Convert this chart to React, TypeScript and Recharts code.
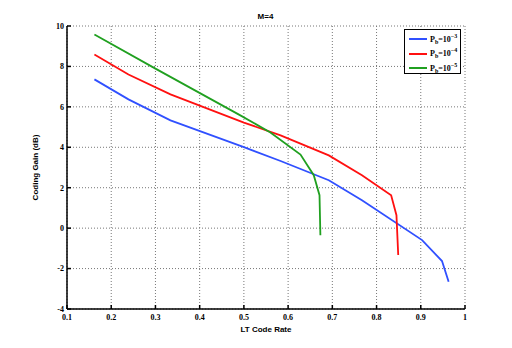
import React from 'react'
import { CartesianGrid, Line, LineChart, XAxis, YAxis } from 'recharts'

// LT code rate vs coding gain, M=4
const blueRate = [0.162, 0.239, 0.334, 0.5, 0.583, 0.692, 0.767, 0.903, 0.948, 0.963]
const blueGain = [7.36, 6.37, 5.33, 4.01, 3.32, 2.37, 1.38, -0.59, -1.63, -2.65]

const redRate = [0.162, 0.239, 0.334, 0.5, 0.583, 0.692, 0.767, 0.833, 0.845, 0.849]
const redGain = [8.59, 7.6, 6.62, 5.22, 4.59, 3.6, 2.62, 1.63, 0.64, -1.33]

const greenRate = [0.162, 0.3, 0.492, 0.56, 0.628, 0.658, 0.671, 0.673]
const greenGain = [9.58, 7.89, 5.58, 4.73, 3.64, 2.62, 1.63, -0.35]

const xTicks = [0.1, 0.2, 0.3, 0.4, 0.5, 0.6, 0.7, 0.8, 0.9, 1]
const yTicks = [-4, -2, 0, 2, 4, 6, 8, 10]

const legendItems = [
  { color: '#3050ff', exp: '−3' },
  { color: '#ff1010', exp: '−4' },
  { color: '#20a020', exp: '−5' },
]

const toPoints = (xs: number[], ys: number[]) => xs.map((x, i) => ({ x, y: ys[i] }))

const blueData = toPoints(blueRate, blueGain)
const redData = toPoints(redRate, redGain)
const greenData = toPoints(greenRate, greenGain)

const tickFont = { fontFamily: 'Liberation Serif', fontWeight: 'bold', fontSize: 8, fill: '#000' }
const labelFont = { fontFamily: 'Liberation Sans', fontWeight: 'bold', fontSize: 8, fill: '#000' }

export default function App() {
  return (
    <div style={{ position: 'absolute', left: 0, top: 0, width: 512, height: 348, background: '#fff' }}>
      <LineChart width={512} height={348} margin={{ top: 26, right: 47, bottom: 19, left: 37 }}>
        <CartesianGrid xAxisId="b" yAxisId="l" stroke="#777" strokeDasharray="1 2" />
        <XAxis
          xAxisId="b"
          type="number"
          dataKey="x"
          domain={[0.1, 1]}
          ticks={xTicks}
          height={20}
          stroke="#000"
          strokeWidth={1.5}
          tickSize={-4}
          tickMargin={9}
          tick={tickFont}
          label={{ value: 'LT Code Rate', position: 'insideBottom', offset: -3, style: labelFont }}
        />
        <XAxis
          xAxisId="t"
          orientation="top"
          type="number"
          dataKey="x"
          domain={[0.1, 1]}
          ticks={xTicks}
          height={0}
          stroke="#000"
          strokeWidth={1.5}
          tickSize={-4}
          tickFormatter={() => ''}
        />
        <YAxis
          yAxisId="l"
          type="number"
          dataKey="y"
          domain={[-4, 10]}
          ticks={yTicks}
          width={30}
          stroke="#000"
          strokeWidth={1.5}
          tickSize={-4}
          tickMargin={7}
          tick={tickFont}
          label={{ value: 'Coding Gain (dB)', angle: -90, position: 'insideLeft', offset: -2, style: { ...labelFont, textAnchor: 'middle' } }}
        />
        <YAxis
          yAxisId="r"
          orientation="right"
          type="number"
          dataKey="y"
          domain={[-4, 10]}
          ticks={yTicks}
          width={0}
          stroke="#000"
          strokeWidth={1.5}
          tickSize={-4}
          tickFormatter={() => ''}
        />
        <Line xAxisId="b" yAxisId="l" data={blueData} dataKey="y" stroke={legendItems[0].color} strokeWidth={1.8} dot={false} isAnimationActive={false} />
        <Line xAxisId="b" yAxisId="l" data={redData} dataKey="y" stroke={legendItems[1].color} strokeWidth={1.8} dot={false} isAnimationActive={false} />
        <Line xAxisId="b" yAxisId="l" data={greenData} dataKey="y" stroke={legendItems[2].color} strokeWidth={1.8} dot={false} isAnimationActive={false} />
        <text x={265.5} y={19} textAnchor="middle" style={labelFont}>M=4</text>
      </LineChart>
      <div
        style={{
          position: 'absolute', left: 404, top: 29, width: 55, height: 43,
          border: '1.5px solid #000', background: '#fff',
          fontFamily: 'Liberation Serif', fontWeight: 'bold', fontSize: 8,
        }}
      >
        {legendItems.map((it, i) => (
          <div key={i} style={{ position: 'absolute', left: 4, top: 3 + i * 14.5, height: 12, display: 'flex', alignItems: 'center', whiteSpace: 'nowrap' }}>
            <span style={{ display: 'inline-block', width: 18, height: 2, background: it.color, marginRight: 3 }} />
            <span>
              P<sub style={{ fontSize: 6 }}>b</sub>=10<sup style={{ fontSize: 6 }}>{it.exp}</sup>
            </span>
          </div>
        ))}
      </div>
    </div>
  )
}
